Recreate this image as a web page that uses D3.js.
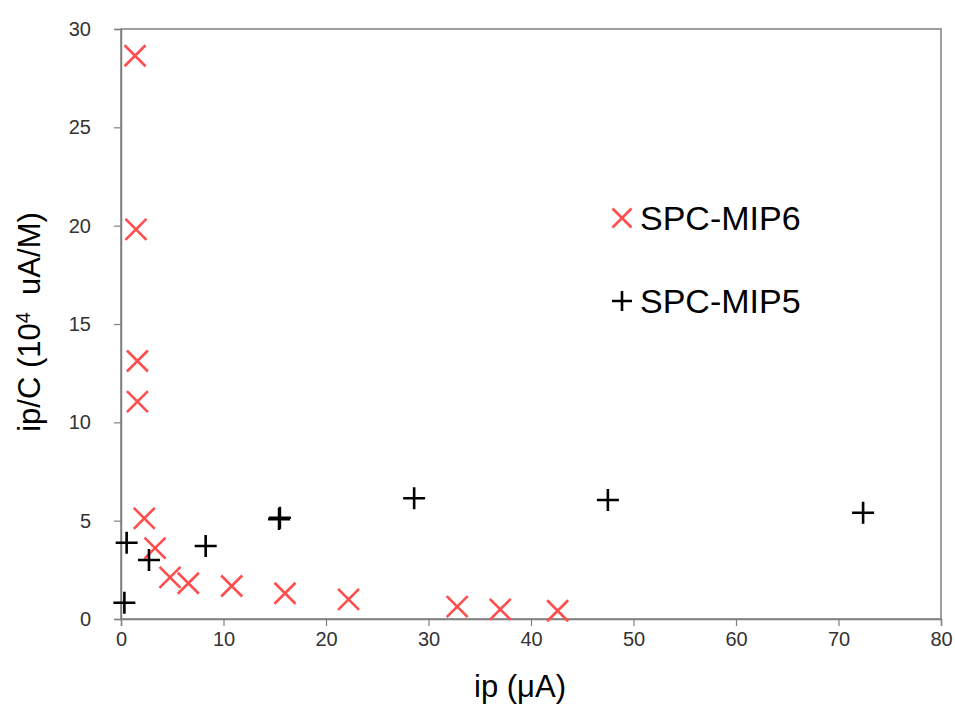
<!DOCTYPE html>
<html>
<head>
<meta charset="utf-8">
<script src="https://cdn.jsdelivr.net/npm/d3@7"></script>
<style>
  body { margin: 0; background: #fff; }
  text { font-family: "Liberation Sans", Arial, sans-serif; }
</style>
</head>
<body>
<svg id="chart" width="955" height="704"></svg>
<script>
// SPC-MIP6 (red x)
var mip6_x = [1.37, 1.46, 1.6, 1.6, 2.27, 3.32, 4.78, 6.57, 10.8, 16.0, 22.2, 32.8, 37.0, 42.6];
var mip6_y = [28.64, 19.81, 13.12, 11.05, 5.12, 3.6, 2.12, 1.82, 1.68, 1.31, 1.0, 0.63, 0.49, 0.42];
// SPC-MIP5 (black +)
var mip5_x = [0.33, 0.55, 2.73, 8.26, 15.42, 15.5, 28.6, 47.5, 72.4];
var mip5_y = [0.83, 3.88, 3.0, 3.71, 5.08, 5.15, 6.14, 6.05, 5.4];

var xTicks = [0, 10, 20, 30, 40, 50, 60, 70, 80];
var yTicks = [0, 5, 10, 15, 20, 25, 30];
var seriesNames = ['SPC-MIP6', 'SPC-MIP5'];

var margin = {left: 121, top: 29, right: 14, bottom: 85};
var width = 955 - margin.left - margin.right,
    height = 704 - margin.top - margin.bottom;

var svg = d3.select('#chart');
var g = svg.append('g')
  .attr('transform', 'translate(' + margin.left + ',' + margin.top + ')');

var x = d3.scaleLinear().domain([0, 80]).range([0, width]);
var y = d3.scaleLinear().domain([0, 30]).range([height, 0]);

var axisColor = '#7f7f7f';

// frame
g.append('rect')
  .attr('width', width).attr('height', height)
  .attr('fill', 'none').attr('stroke', axisColor).attr('stroke-width', 1.5);

var xAxis = g.append('g')
  .attr('transform', 'translate(0,' + height + ')')
  .call(d3.axisBottom(x).tickValues(xTicks).tickSize(7).tickPadding(6));

var yAxis = g.append('g')
  .call(d3.axisLeft(y).tickValues(yTicks).tickSize(7).tickPadding(23));

[xAxis, yAxis].forEach(function(ax) {
  ax.select('.domain').attr('stroke', axisColor).attr('stroke-width', 1.5);
  ax.selectAll('.tick line').attr('stroke', axisColor).attr('stroke-width', 1.2);
  ax.selectAll('.tick text')
    .attr('fill', '#333')
    .style('font-size', '20px')
    .style('font-family', '"Liberation Sans", Arial, sans-serif');
});

function crossPath(s) {
  return 'M' + (-s) + ',' + (-s) + 'L' + s + ',' + s + 'M' + (-s) + ',' + s + 'L' + s + ',' + (-s);
}
function plusPath(s) {
  return 'M' + (-s) + ',0L' + s + ',0M0,' + (-s) + 'L0,' + s;
}

var red = '#ff4d4d';

g.selectAll('.mip6')
  .data(mip6_x.map(function(d, i) { return [d, mip6_y[i]]; }))
  .enter().append('path')
  .attr('class', 'mip6')
  .attr('transform', function(d) { return 'translate(' + x(d[0]) + ',' + y(d[1]) + ')'; })
  .attr('d', crossPath(10.5))
  .attr('stroke', red).attr('stroke-width', 2.6).attr('fill', 'none');

g.selectAll('.mip5')
  .data(mip5_x.map(function(d, i) { return [d, mip5_y[i]]; }))
  .enter().append('path')
  .attr('class', 'mip5')
  .attr('transform', function(d) { return 'translate(' + x(d[0]) + ',' + y(d[1]) + ')'; })
  .attr('d', plusPath(11))
  .attr('stroke', '#000').attr('stroke-width', 2.6).attr('fill', 'none');

// legend
var legend = svg.append('g').attr('transform', 'translate(622,0)');
legend.append('path')
  .attr('transform', 'translate(0,218)')
  .attr('d', crossPath(9.5))
  .attr('stroke', red).attr('stroke-width', 2.6).attr('fill', 'none');
legend.append('text')
  .attr('x', 18).attr('y', 230)
  .style('font-size', '34px').attr('fill', '#000')
  .text(seriesNames[0]);
legend.append('path')
  .attr('transform', 'translate(0,301)')
  .attr('d', plusPath(10))
  .attr('stroke', '#000').attr('stroke-width', 2.6).attr('fill', 'none');
legend.append('text')
  .attr('x', 18).attr('y', 313)
  .style('font-size', '34px').attr('fill', '#000')
  .text(seriesNames[1]);

// axis titles
svg.append('text')
  .attr('x', 520).attr('y', 697)
  .attr('text-anchor', 'middle')
  .style('font-size', '31px').attr('fill', '#000')
  .text('ip (μA)');

var yTitle = svg.append('text')
  .attr('transform', 'translate(40,322) rotate(-90)')
  .attr('text-anchor', 'middle')
  .style('font-size', '31px').attr('fill', '#000');
yTitle.append('tspan').text('ip/C (10');
yTitle.append('tspan').attr('dy', -10).style('font-size', '20px').text('4');
yTitle.append('tspan').attr('dy', 10).attr('xml:space', 'preserve').text('\u00a0 uA/M)');
</script>
</body>
</html>
